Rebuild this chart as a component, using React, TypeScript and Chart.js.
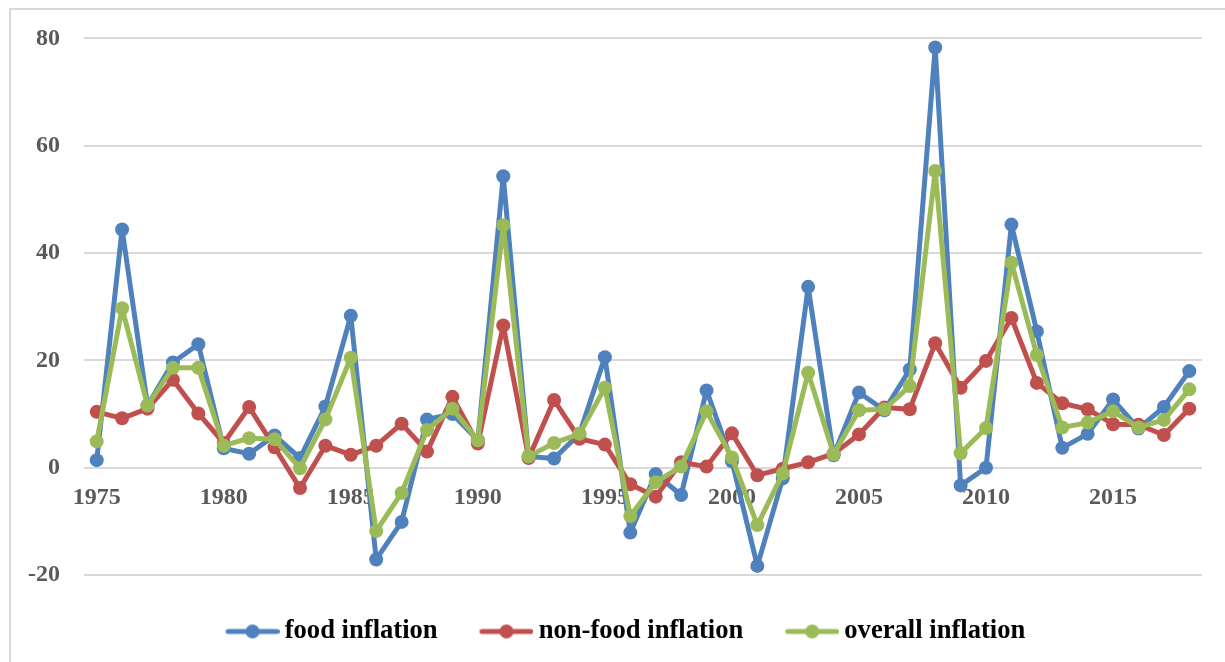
import React, { useEffect, useRef } from "react";
import { Chart, registerables } from "chart.js";

Chart.register(...registerables);

const years = [
  "1975", "1976", "1977", "1978", "1979", "1980", "1981", "1982", "1983", "1984",
  "1985", "1986", "1987", "1988", "1989", "1990", "1991", "1992", "1993", "1994",
  "1995", "1996", "1997", "1998", "1999", "2000", "2001", "2002", "2003", "2004",
  "2005", "2006", "2007", "2008", "2009", "2010", "2011", "2012", "2013", "2014",
  "2015", "2016", "2017", "2018",
];

const foodInflation = [
  1.4, 44.4, 11.6, 19.6, 23.0, 3.6, 2.6, 6.0, 1.8, 11.4,
  28.3, -17.1, -10.1, 9.0, 10.0, 5.1, 54.3, 2.1, 1.7, 6.3,
  20.6, -12.1, -1.2, -5.1, 14.4, 1.2, -18.3, -2.0, 33.7, 2.3,
  14.0, 10.7, 18.3, 78.3, -3.3, 0.0, 45.3, 25.4, 3.7, 6.3,
  12.7, 7.3, 11.3, 18.0,
];

const nonFoodInflation = [
  10.4, 9.2, 11.0, 16.4, 10.1, 4.6, 11.3, 3.8, -3.8, 4.1,
  2.4, 4.1, 8.2, 3.0, 13.2, 4.5, 26.5, 1.8, 12.6, 5.4,
  4.3, -3.1, -5.4, 1.0, 0.2, 6.4, -1.4, -0.2, 1.0, 2.6,
  6.2, 11.2, 10.9, 23.2, 14.9, 19.9, 27.9, 15.8, 12.0, 10.9,
  8.1, 8.0, 6.1, 11.0,
];

const overallInflation = [
  4.9, 29.7, 11.6, 18.6, 18.6, 4.1, 5.5, 5.3, -0.1, 9.0,
  20.5, -11.8, -4.7, 7.0, 11.0, 5.1, 45.2, 2.1, 4.6, 6.3,
  14.9, -9.0, -2.7, 0.2, 10.5, 1.9, -10.7, -1.1, 17.7, 2.5,
  10.7, 10.9, 15.2, 55.3, 2.7, 7.4, 38.2, 21.0, 7.5, 8.4,
  10.5, 7.5, 8.9, 14.6,
];

const seriesNames = ["food inflation", "non-food inflation", "overall inflation"];
const seriesColors = ["#4F81BD", "#C0504D", "#9BBB59"];
const labeledYears = ["1975", "1980", "1985", "1990", "1995", "2000", "2005", "2010", "2015"];
const yMin = -20;
const yMax = 80;
const yStep = 20;

const FONT = "'Liberation Serif', 'Times New Roman', serif";

function makeLegendMarker(color: string): HTMLCanvasElement {
  const c = document.createElement("canvas");
  c.width = 94;
  c.height = 20;
  const ctx = c.getContext("2d")!;
  ctx.strokeStyle = color;
  ctx.lineWidth = 5;
  ctx.lineCap = "round";
  ctx.beginPath();
  ctx.moveTo(42.5, 10);
  ctx.lineTo(91.5, 10);
  ctx.stroke();
  ctx.fillStyle = color;
  ctx.beginPath();
  ctx.arc(67, 10, 7, 0, Math.PI * 2);
  ctx.fill();
  return c;
}

export default function App() {
  const canvasRef = useRef<HTMLCanvasElement | null>(null);

  useEffect(() => {
    if (!canvasRef.current) return;
    const markers = seriesColors.map((c) => makeLegendMarker(c));
    const seriesData = [foodInflation, nonFoodInflation, overallInflation];
    const orders = [3, 2, 1];

    const chart = new Chart(canvasRef.current, {
      type: "line",
      data: {
        labels: years,
        datasets: seriesData.map((d, i) => ({
          label: seriesNames[i],
          data: d,
          borderColor: seriesColors[i],
          backgroundColor: seriesColors[i],
          pointBackgroundColor: seriesColors[i],
          pointBorderColor: seriesColors[i],
          pointBorderWidth: 0,
          pointRadius: 7,
          pointHoverRadius: 7,
          borderWidth: 5,
          borderJoinStyle: "round",
          borderCapStyle: "round",
          tension: 0,
          fill: false,
          order: orders[i],
          xAxisID: "x",
          yAxisID: "y",
        })),
      },
      options: {
        responsive: false,
        animation: false,
        events: [],
        layout: { padding: { left: 0, right: 0, top: 35, bottom: 7.2 } },
        plugins: {
          tooltip: { enabled: false },
          legend: {
            position: "bottom",
            labels: {
              usePointStyle: true,
              pointStyleWidth: 77.7,
              padding: 10,
              color: "#000000",
              font: { family: FONT, size: 26.6, weight: "bold" },
              generateLabels: (ch: any) =>
                ch.data.datasets.map((ds: any, i: number) => ({
                  text: ds.label,
                  pointStyle: markers[i],
                  fillStyle: ds.borderColor,
                  strokeStyle: ds.borderColor,
                  lineWidth: 0,
                  hidden: false,
                  datasetIndex: i,
                  fontColor: "#000000",
                })),
            },
          },
        },
        scales: {
          x: {
            type: "category",
            axis: "x",
            position: { y: 0 },
            offset: true,
            grid: { display: false },
            border: { display: false },
            ticks: {
              autoSkip: false,
              maxRotation: 0,
              minRotation: 0,
              padding: 8,
              color: "#595959",
              font: { family: FONT, size: 24, weight: "bold" },
              callback: function (this: any, value: any) {
                const l = this.getLabelForValue(value);
                return labeledYears.includes(l) ? l : "";
              },
            },
          },
          xb: {
            type: "category",
            axis: "x",
            position: "bottom",
            display: true,
            grid: { display: false },
            border: { display: false },
            ticks: { display: false },
            afterFit: (s: any) => {
              s.height = 33.2;
            },
          },
          y: {
            type: "linear",
            min: yMin,
            max: yMax,
            afterFit: (s: any) => {
              s.width = 74;
            },
            grid: { color: "#d9d9d9", lineWidth: 2, drawTicks: false },
            border: { display: false },
            ticks: {
              stepSize: yStep,
              padding: 24,
              color: "#595959",
              font: { family: FONT, size: 24, weight: "bold" },
            },
          },
        },
      } as any,
    });

    return () => chart.destroy();
  }, []);

  return (
    <div
      style={{
        position: "fixed",
        left: 0,
        top: 0,
        width: 1225,
        height: 662,
        overflow: "hidden",
        background: "#ffffff",
      }}
    >
      <div
        style={{
          position: "absolute",
          left: 9,
          top: 8,
          width: 1240,
          height: 680,
          border: "2px solid #d9d9d9",
          boxSizing: "border-box",
        }}
      />
      <canvas
        ref={canvasRef}
        width={1199}
        height={662}
        style={{ position: "absolute", left: 10, top: 0, width: 1199, height: 662 }}
      />
    </div>
  );
}
